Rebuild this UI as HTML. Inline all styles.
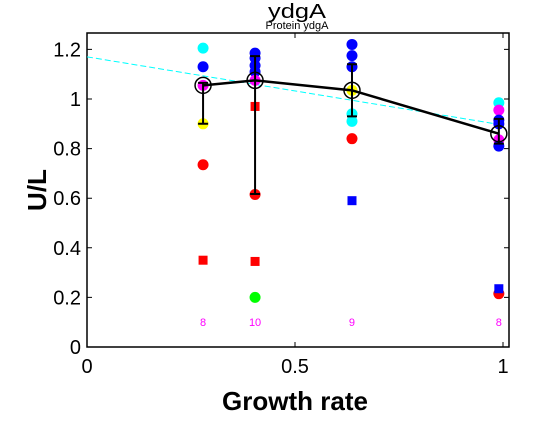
<!DOCTYPE html>
<html><head><meta charset="utf-8"><style>
body{margin:0;background:#fff;}
svg text{font-family:"Liberation Sans",sans-serif;}
</style></head><body>
<svg id="chart" width="560" height="420" xmlns="http://www.w3.org/2000/svg">
<rect width="560" height="420" fill="#fff"/>
<text x="297" y="18" font-size="20" text-anchor="middle" textLength="58" lengthAdjust="spacingAndGlyphs">ydgA</text>
<text x="297" y="29" font-size="11" text-anchor="middle">Protein ydgA</text>
<g id="plot"></g>
<text x="295" y="410" font-size="26" font-weight="bold" text-anchor="middle">Growth rate</text>
<text transform="translate(46,190) rotate(-90)" font-size="26" font-weight="bold" text-anchor="middle">U/L</text>
</svg>
<script>
const xTicks=[0,0.5,1];
const xTickLabels=["0","0.5","1"];
const yTicks=[0,0.2,0.4,0.6,0.8,1,1.2];
const yTickLabels=["0","0.2","0.4","0.6","0.8","1","1.2"];
const groupX=[0.279,0.404,0.637,0.99];
const groupMean=[1.055,1.075,1.035,0.86];
const errLow=[0.9,0.617,0.93,0.82];
const errHigh=[1.065,1.173,1.14,0.92];
const counts=["8","10","9","8"];
const ptGroup=[0,0,0,0,0,1,1,1,1,1,1,2,2,2,2,2,2,2,3,3,3,3,3,3,3];
const ptY=[1.205,1.13,1.055,0.9,0.735,1.185,1.165,1.135,1.11,1.075,0.615,1.22,1.175,1.13,1.035,0.94,0.91,0.84,0.985,0.955,0.915,0.9,0.835,0.81,0.215];
const ptColor=["#00ffff","#0000ff","#ff00ff","#ffff00","#ff0000","#0000ff","#0000ff","#0000ff","#0000ff","#ff00ff","#ff0000","#0000ff","#0000ff","#0000ff","#ffff00","#00ffff","#00ffff","#ff0000","#00ffff","#ff00ff","#0000ff","#0000ff","#ff00ff","#0000ff","#ff0000"];
const sqGroup=[0,1,1,2,3];
const sqY=[0.35,0.97,0.345,0.59,0.235];
const sqColor=["#ff0000","#ff0000","#ff0000","#0000ff","#0000ff"];
const greenGroup=[1];
const greenY=[0.2];
const fitY0=1.17, fitY1=0.895;
const X0=87,XS=416,Y0=347,YS=248,XR=509,YT=33;
const sx=v=>X0+v*XS, sy=v=>Y0-v*YS;
const NS="http://www.w3.org/2000/svg";
const plot=document.getElementById('plot');
function mk(tag,attrs,parent){const e=document.createElementNS(NS,tag);for(const k in attrs)e.setAttribute(k,attrs[k]);(parent||plot).appendChild(e);return e;}
// axes box
const box=mk('rect',{x:X0,y:YT,width:XR-X0,height:Y0-YT,fill:'none',stroke:'#000','stroke-width':1.5});


xTicks.forEach((t,i)=>{
 const tk=mk('path',{d:`M${sx(t)} ${Y0}v-5M${sx(t)} ${YT}v5`,stroke:'#000'});
 
 
 const tl=mk('text',{x:sx(t),y:Y0+26,'font-size':20,'text-anchor':'middle'});tl.textContent=xTickLabels[i];
 
 
});
yTicks.forEach((t,i)=>{
 const tk=mk('path',{d:`M${X0} ${sy(t)}h5M${XR} ${sy(t)}h-5`,stroke:'#000'});
 
 
 const tl=mk('text',{x:X0-6,y:sy(t)+7,'font-size':20,'text-anchor':'end'});tl.textContent=yTickLabels[i];
 
 
});
// fit line
const fit=mk('line',{x1:sx(0),y1:sy(fitY0),x2:sx(1),y2:sy(fitY1),stroke:'#00ffff','stroke-width':1,'stroke-dasharray':'6,3'});


// points
ptY.forEach((v,i)=>{
 const c=mk('circle',{cx:sx(groupX[ptGroup[i]]),cy:sy(v),r:5.5,fill:ptColor[i]});
 
 
});
sqY.forEach((v,i)=>{
 const s=mk('rect',{x:sx(groupX[sqGroup[i]])-4.5,y:sy(v)-4.5,width:9,height:9,fill:sqColor[i]});
 
 
});
greenY.forEach((v,i)=>{
 const c=mk('circle',{cx:sx(groupX[greenGroup[i]]),cy:sy(v),r:5.5,fill:'#00ff00'});
 
 
});
// mean line
const ml=mk('polyline',{points:groupX.map((x,i)=>sx(x)+','+sy(groupMean[i])).join(' '),fill:'none',stroke:'#000','stroke-width':2.5});


groupX.forEach((x,i)=>{
 const e=mk('path',{d:`M${sx(x)} ${sy(errLow[i])}V${sy(errHigh[i])}M${sx(x)-5} ${sy(errLow[i])}h10M${sx(x)-5} ${sy(errHigh[i])}h10`,stroke:'#000','stroke-width':2,fill:'none'});
 
 
 const m=mk('circle',{cx:sx(x),cy:sy(groupMean[i]),r:8,fill:'none',stroke:'#000','stroke-width':1.5});
 
 
 const t=mk('text',{x:sx(x),y:sy(0.1)+4,'font-size':11,fill:'#ff00ff','text-anchor':'middle'});t.textContent=counts[i];
 
 
});
</script>
</body></html>
